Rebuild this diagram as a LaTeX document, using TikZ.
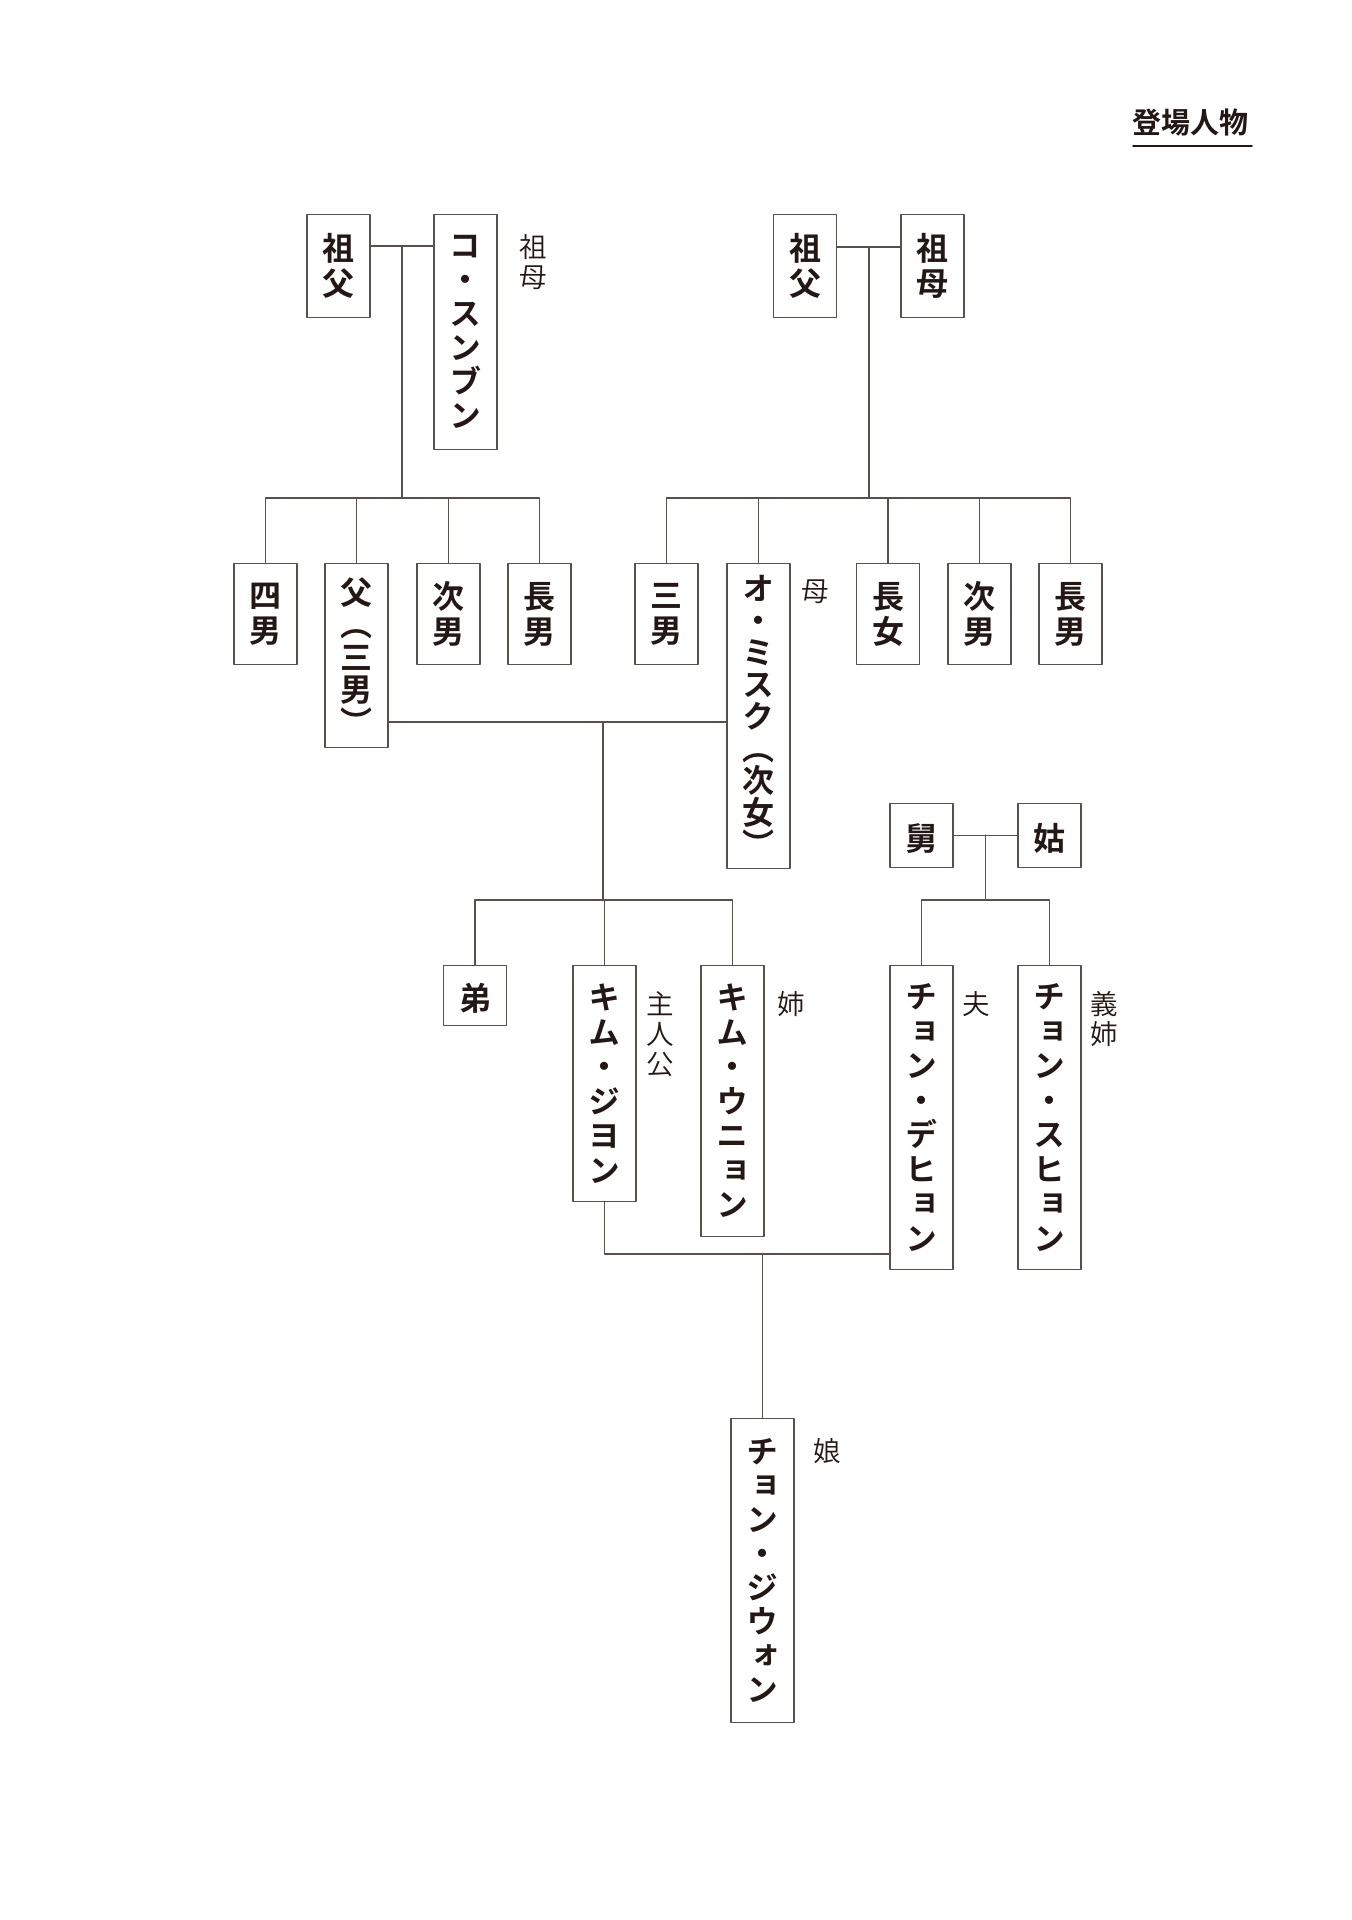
\documentclass[tikz,border=0pt]{standalone}
\usepackage{fontspec}
\newfontfamily\jp{Noto Sans CJK JP DemiLight}
\newfontfamily\jpv{Noto Sans CJK JP Bold}[RawFeature=+vert]
\usetikzlibrary{positioning}
\definecolor{ink}{HTML}{231815}
\definecolor{rule}{HTML}{57504D}

\begin{document}
\begin{tikzpicture}[x=0.4pt, y=-0.4pt, line join=round, line cap=round,
  person/.style={draw=rule, line width=.5pt, text=ink, fill=white, minimum width=25.2pt,
    inner sep=0pt, anchor=north, align=center, font=\jpv\fontsize{12.8pt}{#1}\selectfont,
    execute at begin node={\rule{0pt}{13pt}}},
  person/.default=13.8pt,
  tall/.style={minimum height=#1*0.4pt},
  sink/.style={execute at begin node={\rule{0pt}{#1}}},
  role/.style={text=ink, inner sep=0pt, align=center, font=\jp\fontsize{11pt}{12pt}\selectfont},
  link/.style={draw=rule, line width=.5pt}]
\useasboundingbox[fill=white] (0,0) rectangle (1352,1920);

\node [text=ink, inner sep=0pt, font=\jpv\fontsize{11.6pt}{12pt}\selectfont] (title) at (1190.5,122.5) {登場人物};
\draw [ink, line width=.7pt] (1133,146) -- (1252,146);

% grandparents
\node [person={14pt}, tall=103] (GFL) at (338.5,214) {祖\\父};
\node [person={13.6pt}, tall=235] (GML) at (465.5,214) {コ\\・\\ス\\ン\\ブ\\ン};
\node [person={14pt}, tall=103] (GFR) at (805,214) {祖\\父};
\node [person={14pt}, tall=103] (GMR) at (932.5,214) {祖\\母};

% second generation
\node [person={13pt}, sink=16pt, tall=184] (F) at (356.5,563) {父\\（\\三\\男\\）};
\node [person={14pt}, tall=101] (S4L) at (265.5,563) {四\\男};
\node [person={14pt}, tall=101] (S2L) at (448.5,563) {次\\男};
\node [person={14pt}, tall=101] (S1L) at (539.5,563) {長\\男};
\node [person={14pt}, tall=101] (S3R) at (666.5,563) {三\\男};
\node [person={12.8pt}, sink=19pt, tall=305] (M) at (758.5,563) {オ\\・\\ミ\\ス\\ク\\（\\次\\女\\）};
\node [person={14pt}, tall=101] (D1R) at (888,563) {長\\女};
\node [person={14pt}, tall=101] (S2R) at (979.5,563) {次\\男};
\node [person={14pt}, tall=101] (S1R) at (1070.5,563) {長\\男};

% in-laws
\node [person, tall=64] (FIL) at (921.5,803) {舅};
\node [person, tall=64] (MIL) at (1049.5,803) {姑};

% third generation
\node [person, tall=60] (B) at (475,965) {弟};
\node [person, tall=236] (J) at (604.5,965) {キ\\ム\\・\\ジ\\ヨ\\ン};
\node [person, tall=271] (E) at (732.5,965) {キ\\ム\\・\\ウ\\ニ\\ョ\\ン};
\node [person, tall=304] (H) at (921.5,965) {チ\\ョ\\ン\\・\\デ\\ヒ\\ョ\\ン};
\node [person, tall=304] (SIL) at (1049.5,965) {チ\\ョ\\ン\\・\\ス\\ヒ\\ョ\\ン};

\node [person={13.6pt}, tall=304] (D) at (762.5,1418) {チ\\ョ\\ン\\・\\ジ\\ウ\\ォ\\ン};

% roles
\node [role, below right=8pt and 8.4pt of GML.north east] (rGML) {祖\\母};
\node [role, below right=6.4pt and 4pt of M.north east] (rM) {母};
\node [role, below right=10.4pt and 3.6pt of J.north east] (rJ) {主\\人\\公};
\node [role, below right=10.4pt and 4.8pt of E.north east] (rE) {姉};
\node [role, below right=10.4pt and 3.2pt of H.north east] (rH) {夫};
\node [role, below right=10.4pt and 3.2pt of SIL.north east] (rSIL) {義\\姉};
\node [role, below right=8pt and 7.2pt of D.north east] (rD) {娘};

\coordinate (mL) at (402,246);
\coordinate (sL) at (402,498);
\coordinate (mR) at (869,247);
\coordinate (sR) at (869,498);
\coordinate (mP) at (603,722);
\coordinate (sP) at (603,900);
\coordinate (mI) at (985.5,835);
\coordinate (sI) at (985.5,900);
\coordinate (mJ) at (762.5,1254);

\draw[link] (GFL.east |- mL) -- (GML.west |- mL);
\draw[link] (mL) -- (sL);
\draw[link] (S4L.north) -- (S4L.north |- sL) -- (S1L.north |- sL) -- (S1L.north);
\foreach \i in {F, S2L}
    \draw[link] (\i.north) -- (\i.north |- sL);

\draw[link] (GFR.east |- mR) -- (GMR.west |- mR);
\draw[link] (mR) -- (sR);
\draw[link] (S3R.north) -- (S3R.north |- sR) -- (S1R.north |- sR) -- (S1R.north);
\foreach \i in {M, D1R, S2R}
    \draw[link] (\i.north) -- (\i.north |- sR);

\draw[link] (F.east |- mP) -- (M.west |- mP);
\draw[link] (mP) -- (sP);
\draw[link] (B.north) -- (B.north |- sP) -- (E.north |- sP) -- (E.north);
\draw[link] (J.north) -- (J.north |- sP);

\draw[link] (FIL.east) -- (MIL.west);
\draw[link] (mI) -- (sI);
\draw[link] (H.north) -- (H.north |- sI) -- (SIL.north |- sI) -- (SIL.north);

\draw[link] (J.south) -- (J.south |- mJ) -- (H.west |- mJ);
\draw[link] (mJ) -- (D.north);

\end{tikzpicture}
\end{document}
